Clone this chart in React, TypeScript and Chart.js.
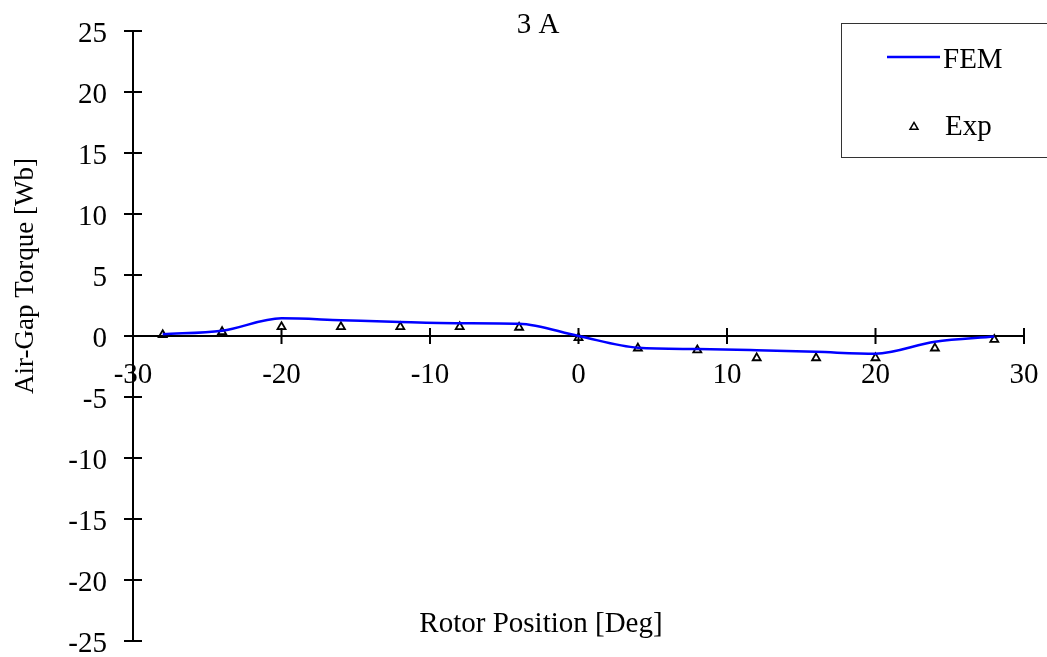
import React, { useEffect, useRef } from "react";
import { Chart, registerables } from "chart.js";

Chart.register(...registerables);

// Rotor positions (degrees) where torque was evaluated / measured
const rotorPositions = [-28, -24, -20, -16, -12, -8, -4, 0, 4, 8, 12, 16, 20, 24, 28];
// Finite-element torque
const femTorque = [0.15, 0.43, 1.45, 1.3, 1.15, 1.05, 1.0, 0, -0.96, -1.07, -1.17, -1.3, -1.45, -0.47, -0.05];
// Measured torque
const expTorque = [0.1, 0.35, 0.75, 0.75, 0.75, 0.75, 0.7, -0.15, -1.0, -1.15, -1.8, -1.8, -1.8, -1.0, -0.3];

const xTickValues = [-30, -20, -10, 0, 10, 20, 30];
const yTickValues = [25, 20, 15, 10, 5, 0, -5, -10, -15, -20, -25];

const titleText = "3 A";
const xTitleText = "Rotor Position [Deg]";
const yTitleText = "Air-Gap Torque [Wb]";
const legendLabels = ["FEM", "Exp"];

const SERIF = "'Liberation Serif', 'Times New Roman', serif";
const BLUE = "#0000FF";

function drawTriangle(ctx: CanvasRenderingContext2D, x: number, y: number, r: number) {
  ctx.beginPath();
  ctx.moveTo(x, y - r);
  ctx.lineTo(x + r * Math.sin((2 * Math.PI) / 3), y - r * Math.cos((2 * Math.PI) / 3));
  ctx.lineTo(x + r * Math.sin((4 * Math.PI) / 3), y - r * Math.cos((4 * Math.PI) / 3));
  ctx.closePath();
  ctx.stroke();
}

const axesPlugin = {
  id: "crossAxes",
  beforeDatasetsDraw(chart: any) {
    const { ctx, scales } = chart;
    const xs = scales.x;
    const ys = scales.y;
    const x0 = xs.getPixelForValue(-30);
    const y0 = ys.getPixelForValue(0);
    ctx.save();
    ctx.strokeStyle = "#000";
    ctx.lineWidth = 2;
    ctx.beginPath();
    // vertical axis
    ctx.moveTo(x0, ys.getPixelForValue(25));
    ctx.lineTo(x0, ys.getPixelForValue(-25));
    // horizontal axis through zero
    ctx.moveTo(xs.getPixelForValue(-30), y0);
    ctx.lineTo(xs.getPixelForValue(30), y0);
    // crossing tick marks
    yTickValues.forEach((v) => {
      const py = ys.getPixelForValue(v);
      ctx.moveTo(x0 - 9, py);
      ctx.lineTo(x0 + 9, py);
    });
    xTickValues.forEach((v) => {
      if (v === -30) return;
      const px = xs.getPixelForValue(v);
      ctx.moveTo(px, y0 - 8);
      ctx.lineTo(px, y0 + 8);
    });
    ctx.stroke();
    ctx.restore();
  },
  afterDraw(chart: any) {
    const { ctx, scales } = chart;
    const xs = scales.x;
    const ys = scales.y;
    const x0 = xs.getPixelForValue(-30);
    const y0 = ys.getPixelForValue(0);
    ctx.save();
    ctx.fillStyle = "#000";
    ctx.font = `29px ${SERIF}`;
    ctx.textBaseline = "alphabetic";

    // y tick labels
    ctx.textAlign = "right";
    yTickValues.forEach((v) => {
      ctx.fillText(String(v), x0 - 26, ys.getPixelForValue(v) + 11);
    });
    // x tick labels
    ctx.textAlign = "center";
    xTickValues.forEach((v) => {
      ctx.fillText(String(v), xs.getPixelForValue(v), y0 + 47);
    });

    // title and axis titles
    ctx.fillText(titleText, 538, 33);
    ctx.fillText(xTitleText, 541, 632);
    ctx.save();
    ctx.font = `27px ${SERIF}`;
    ctx.translate(33, 276);
    ctx.rotate(-Math.PI / 2);
    ctx.textAlign = "center";
    ctx.fillText(yTitleText, 0, 0);
    ctx.restore();

    // legend box
    ctx.strokeStyle = "#333";
    ctx.lineWidth = 1;
    ctx.strokeRect(841.5, 23.5, 220, 134);
    ctx.strokeStyle = BLUE;
    ctx.lineWidth = 2.5;
    ctx.beginPath();
    ctx.moveTo(887, 57);
    ctx.lineTo(940, 57);
    ctx.stroke();
    ctx.strokeStyle = "#000";
    ctx.lineWidth = 1.5;
    drawTriangle(ctx, 914, 127, 4.6);
    ctx.textAlign = "left";
    ctx.font = `29px ${SERIF}`;
    ctx.fillText(legendLabels[0], 943, 68);
    ctx.fillText(legendLabels[1], 945, 135);
    ctx.restore();
  },
};

export default function App() {
  const canvasRef = useRef<HTMLCanvasElement>(null);

  useEffect(() => {
    if (!canvasRef.current) return;
    const chart = new Chart(canvasRef.current, {
      type: "line",
      data: {
        datasets: [
          {
            label: legendLabels[0],
            data: rotorPositions.map((x, i) => ({ x, y: femTorque[i] })),
            borderColor: BLUE,
            borderWidth: 2.5,
            pointRadius: 0,
            cubicInterpolationMode: "monotone",
            fill: false,
          },
          {
            label: legendLabels[1],
            data: rotorPositions.map((x, i) => ({ x, y: expTorque[i] })),
            showLine: false,
            pointStyle: "triangle",
            pointRadius: 4.6,
            pointBorderColor: "#000",
            pointBackgroundColor: "rgba(0,0,0,0)",
            pointBorderWidth: 1.8,
          },
        ],
      },
      options: {
        animation: false,
        responsive: false,
        maintainAspectRatio: false,
        layout: { padding: { left: 133, top: 31, right: 23, bottom: 16 } },
        scales: {
          x: { type: "linear", min: -30, max: 30, display: false },
          y: { type: "linear", min: -25, max: 25, display: false },
        },
        plugins: {
          legend: { display: false },
          tooltip: { enabled: false },
          title: { display: false },
        },
      },
      plugins: [axesPlugin],
    });
    return () => chart.destroy();
  }, []);

  return (
    <div style={{ position: "absolute", left: 0, top: 0, width: 1047, height: 657, background: "#fff" }}>
      <canvas ref={canvasRef} width={1047} height={657} style={{ width: 1047, height: 657 }} />
    </div>
  );
}
